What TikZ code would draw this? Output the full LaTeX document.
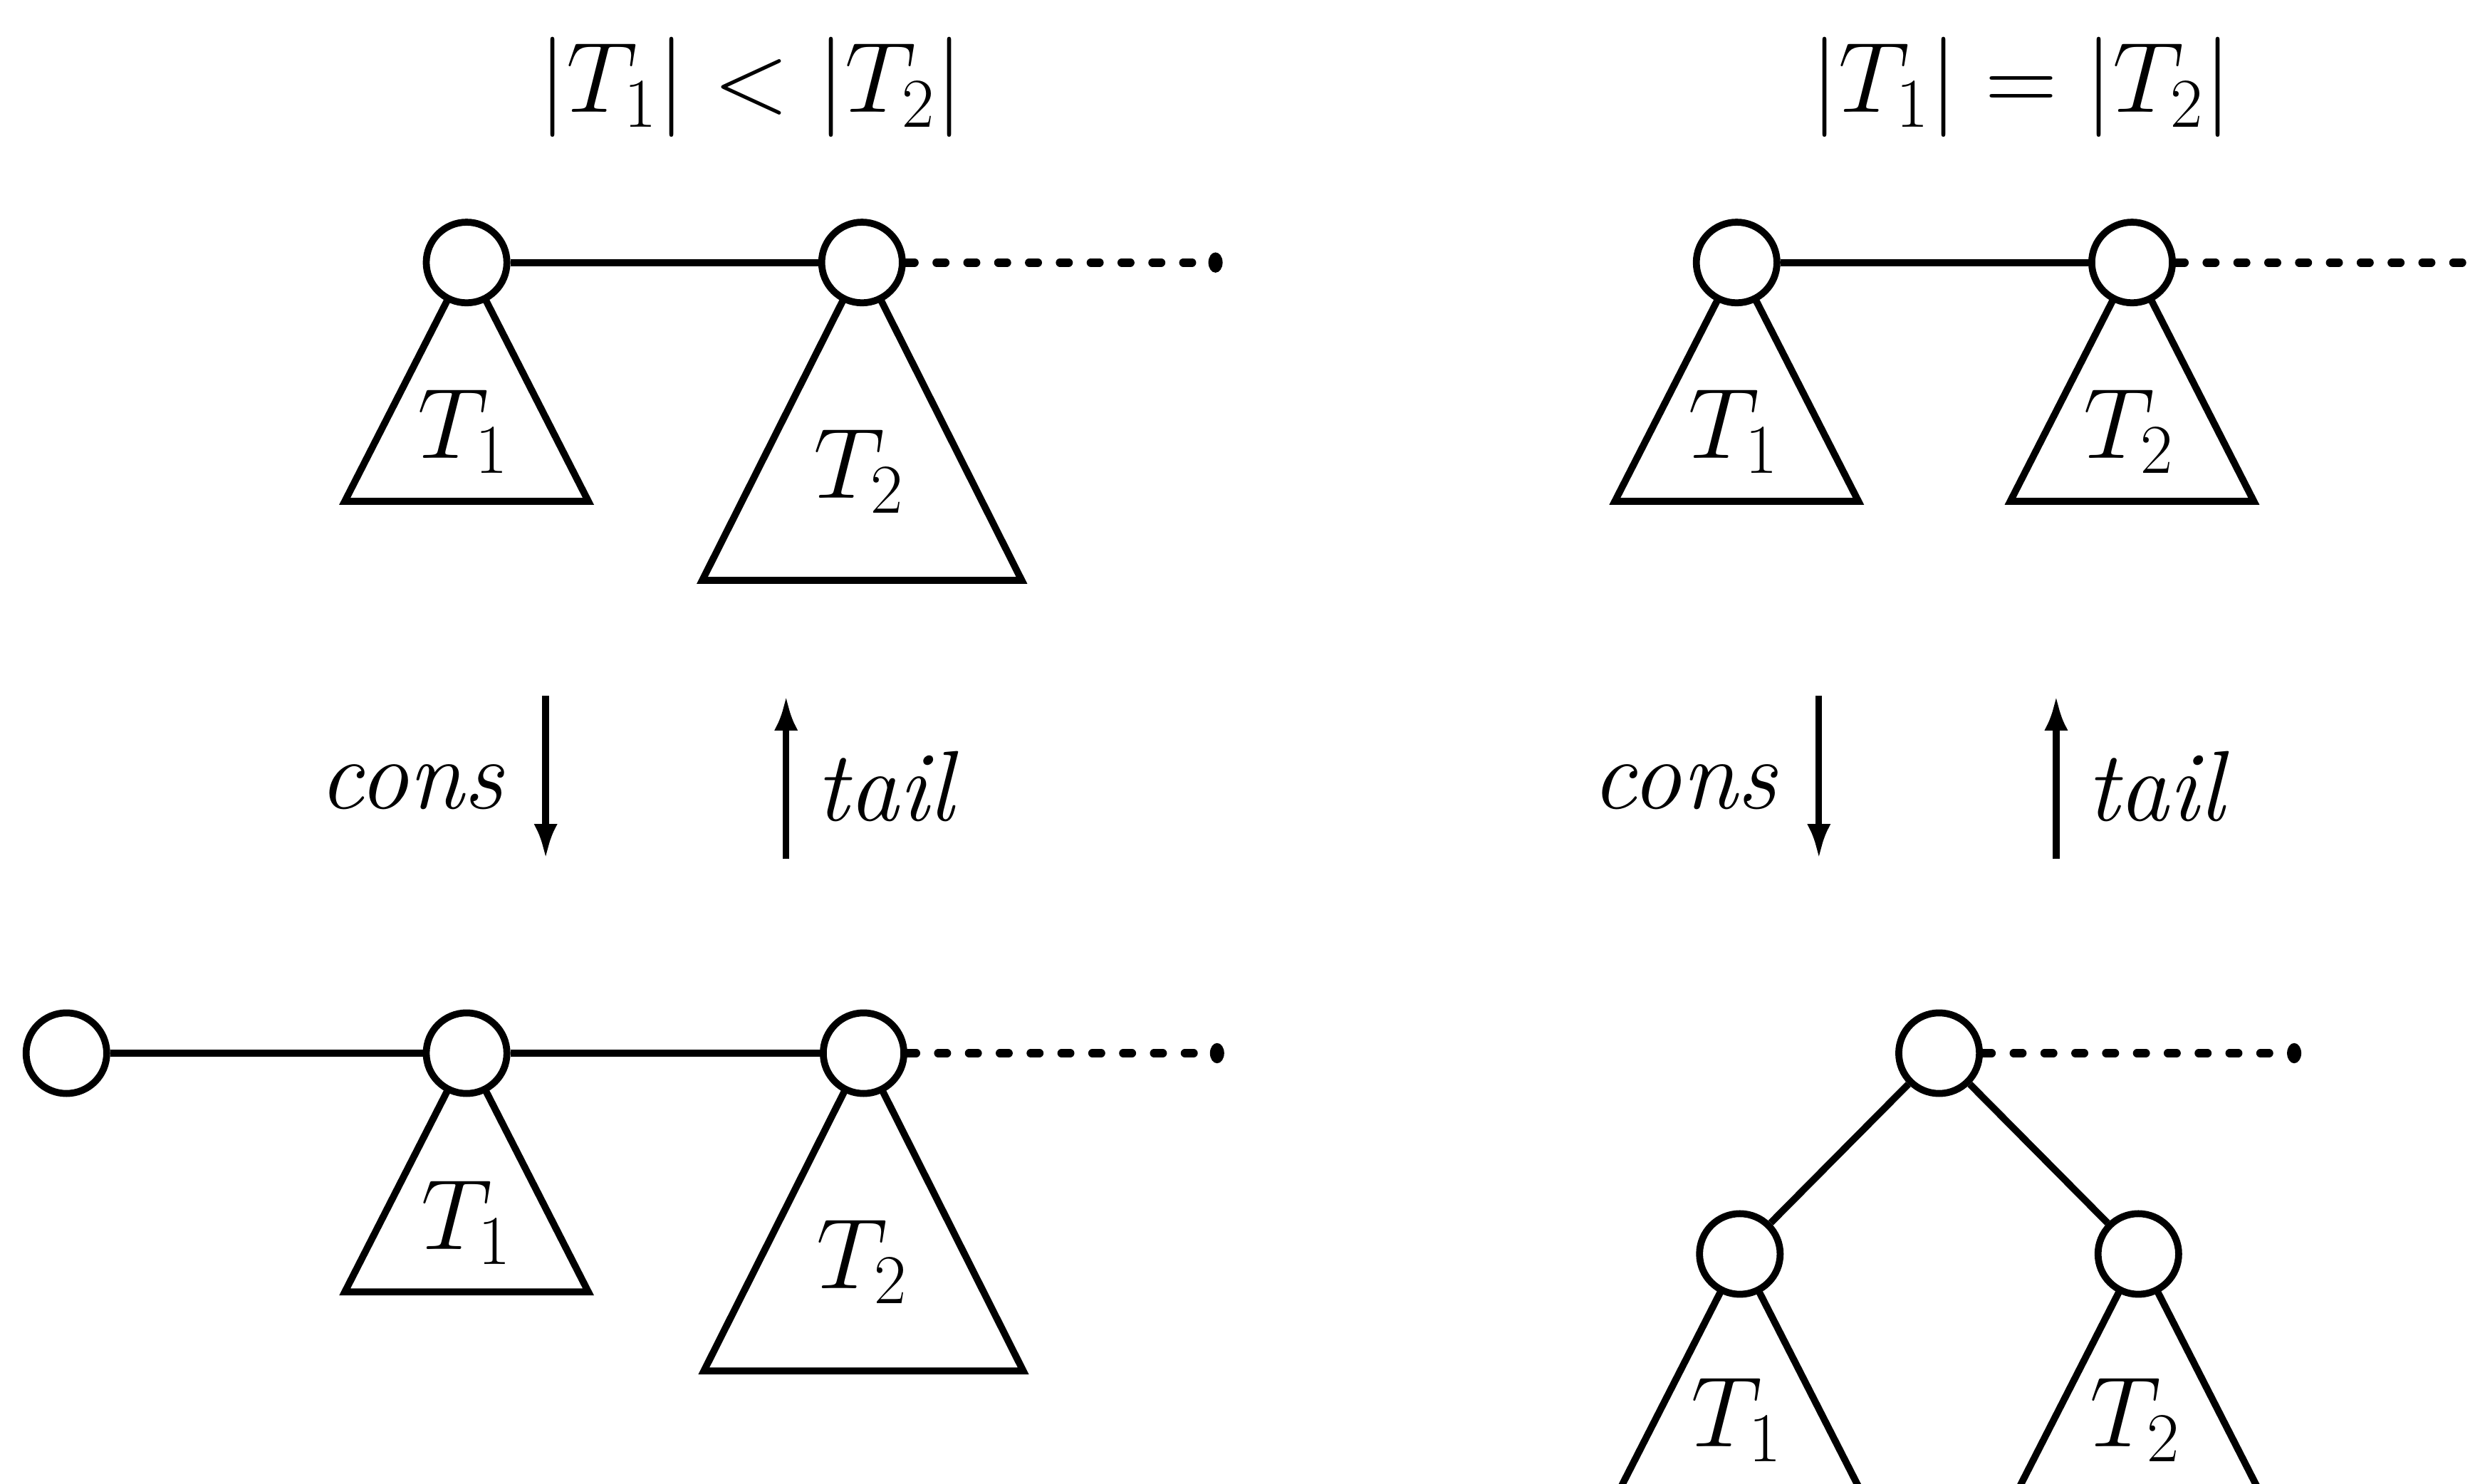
\RequirePackage{fix-cm}
\documentclass[tikz,border=0pt]{standalone}
\usetikzlibrary{arrows.meta,backgrounds}
\tikzset{
    vert/.style={circle, draw=black, fill=white, line width=2.5pt, minimum size=1.02cm, inner sep=0pt},
    edge/.style={line width=2.5pt},
    link/.style={line width=3pt, line cap=round, dash pattern=on 0.11cm off 0.28cm},
    move/.style={line width=2.4pt, -{Latex[length=0.44cm,width=0.3cm]}},
    tri/.style={line width=2.5pt, line join=miter},
    stub/.style={fill=black}
}

\begin{document}
\begin{tikzpicture}
  [
    x                       = 0.02cm,
    y                       = -0.02cm,
    level distance          = 2.54cm,
    sibling distance        = 5.04cm,
    every node/.style       = {font=\fontsize{36}{43}\selectfont},
  ]
  \useasboundingbox (0,0) rectangle (1568,938);

  % titles
  \node (h1) at (475,55) {$|T_1| < |T_2|$};
  \node (h2) at (1278,55) {$|T_1| = |T_2|$};

  % top left
  \node [vert] (a1) at (295,166) {};
  \node [vert] (a2) at (545,166) {};
  \coordinate (a3) at (764,166);
  \draw [edge] (a1) -- (a2);
  \draw [link] (a2) -- (a3);
  \fill [stub] (a3) +(4.5,0) ellipse (4.5 and 6.4);

  % top right
  \node [vert] (b1) at (1098,166) {};
  \node [vert] (b2) at (1348,166) {};
  \coordinate (b3) at (1580,166);
  \draw [edge] (b1) -- (b2);
  \draw [link] (b2) -- (b3);

  % bottom left
  \node [vert] (c0) at (42,666) {};
  \node [vert] (c1) at (295,666) {};
  \node [vert] (c2) at (546,666) {};
  \coordinate (c3) at (765,666);
  \draw [edge] (c0) -- (c1);
  \draw [edge] (c1) -- (c2);
  \draw [link] (c2) -- (c3);
  \fill [stub] (c3) +(4.5,0) ellipse (4.5 and 6.4);

  % bottom right
  \node [vert] (d0) at (1226,666) {}
    child [edge] {node [vert] (d1) {}}
    child [edge] {node [vert] (d2) {}};
  \coordinate (d3) at (1446,666);
  \draw [link] (d0) -- (d3);
  \fill [stub] (d3) +(4.5,0) ellipse (4.5 and 6.4);

  % subtrees
  \begin{scope}[on background layer]
    \draw [tri] (a1.center) -- ++(-77,151) -- ++(154,0) -- cycle;
    \draw [tri] (a2.center) -- ++(-101,201) -- ++(202,0) -- cycle;
    \draw [tri] (b1.center) -- ++(-77,151) -- ++(154,0) -- cycle;
    \draw [tri] (b2.center) -- ++(-77,151) -- ++(154,0) -- cycle;
    \draw [tri] (c1.center) -- ++(-77,151) -- ++(154,0) -- cycle;
    \draw [tri] (c2.center) -- ++(-101,201) -- ++(202,0) -- cycle;
    \draw [tri] (d1.center) -- ++(-77,151) -- ++(154,0) -- cycle;
    \draw [tri] (d2.center) -- ++(-77,151) -- ++(154,0) -- cycle;
  \end{scope}
  \node (ta1) at (293,273) {$T_1$};
  \node (ta2) at (543,298) {$T_2$};
  \node (tb1) at (1096,273) {$T_1$};
  \node (tb2) at (1346,273) {$T_2$};
  \node (tc1) at (295,773) {$T_1$};
  \node (tc2) at (545,798) {$T_2$};
  \node (td1) at (1098,898) {$T_1$};
  \node (td2) at (1350,898) {$T_2$};

  % operations
  \coordinate (p1) at (345,440);
  \coordinate (p2) at (345,543);
  \coordinate (q1) at (497,543);
  \coordinate (q2) at (497,440);
  \draw [move] (p1) -- node [left=0.36cm, yshift=-0.12cm] (k1) {\textit{cons}} (p2);
  \draw [move] (q1) -- node [right=0.22cm, yshift=-0.12cm] (k2) {\textit{tail}} (q2);
  \coordinate (r1) at (1150,440);
  \coordinate (r2) at (1150,543);
  \coordinate (s1) at (1300,543);
  \coordinate (s2) at (1300,440);
  \draw [move] (r1) -- node [left=0.36cm, yshift=-0.12cm] (k3) {\textit{cons}} (r2);
  \draw [move] (s1) -- node [right=0.22cm, yshift=-0.12cm] (k4) {\textit{tail}} (s2);
\end{tikzpicture}
\end{document}
